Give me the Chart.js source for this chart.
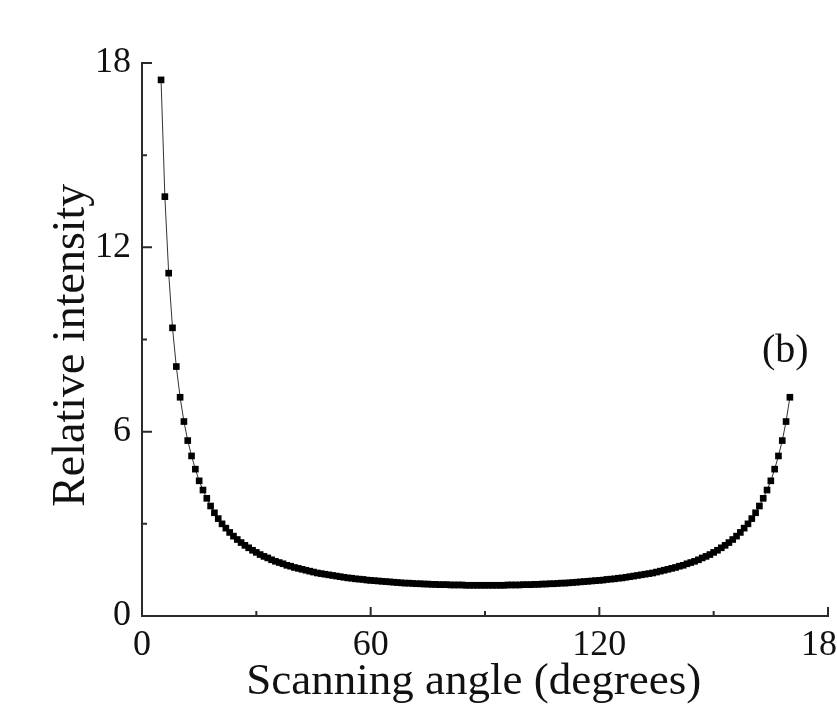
<!DOCTYPE html>
<html>
<head>
<meta charset="utf-8">
<script src="https://cdn.jsdelivr.net/npm/chart.js@4.4.1/dist/chart.umd.min.js"></script>
<style>
  html, body { margin: 0; padding: 0; background: #fff; overflow: hidden; }
  #wrap { width: 837px; height: 709px; overflow: hidden; }
</style>
</head>
<body>
<div id="wrap"><canvas id="chart" width="880" height="709"></canvas></div>
<script>
// scanning angle (degrees), one point per degree
const angles = [
  5, 6, 7, 8, 9, 10, 11, 12, 13, 14, 15, 16, 17, 18, 19, 20, 21, 22, 23, 24,
  25, 26, 27, 28, 29, 30, 31, 32, 33, 34, 35, 36, 37, 38, 39, 40, 41, 42, 43, 44,
  45, 46, 47, 48, 49, 50, 51, 52, 53, 54, 55, 56, 57, 58, 59, 60, 61, 62, 63, 64,
  65, 66, 67, 68, 69, 70, 71, 72, 73, 74, 75, 76, 77, 78, 79, 80, 81, 82, 83, 84,
  85, 86, 87, 88, 89, 90, 91, 92, 93, 94, 95, 96, 97, 98, 99, 100, 101, 102, 103, 104,
  105, 106, 107, 108, 109, 110, 111, 112, 113, 114, 115, 116, 117, 118, 119, 120, 121, 122, 123, 124,
  125, 126, 127, 128, 129, 130, 131, 132, 133, 134, 135, 136, 137, 138, 139, 140, 141, 142, 143, 144,
  145, 146, 147, 148, 149, 150, 151, 152, 153, 154, 155, 156, 157, 158, 159, 160, 161, 162, 163, 164,
  165, 166, 167, 168, 169, 170
];

// relative intensity
const intensity = [
  17.45, 13.65, 11.16, 9.38, 8.12, 7.12, 6.33, 5.71, 5.21, 4.78, 4.40, 4.10, 3.83, 3.58, 3.36, 3.17, 3.00, 2.86, 2.72, 2.60,
  2.49, 2.39, 2.30, 2.22, 2.14, 2.07, 2.00, 1.94, 1.89, 1.83, 1.78, 1.74, 1.70, 1.65, 1.62, 1.58, 1.55, 1.52, 1.49, 1.46,
  1.43, 1.40, 1.38, 1.36, 1.34, 1.32, 1.30, 1.28, 1.26, 1.24, 1.23, 1.21, 1.20, 1.19, 1.17, 1.16, 1.15, 1.14, 1.13, 1.12,
  1.11, 1.10, 1.09, 1.08, 1.07, 1.07, 1.06, 1.05, 1.05, 1.04, 1.04, 1.03, 1.03, 1.02, 1.02, 1.02, 1.01, 1.01, 1.01, 1.01,
  1.00, 1.00, 1.00, 1.00, 1.00, 1.00, 1.00, 1.00, 1.00, 1.00, 1.00, 1.01, 1.01, 1.01, 1.01, 1.02, 1.02, 1.02, 1.03, 1.03,
  1.04, 1.04, 1.05, 1.05, 1.06, 1.07, 1.07, 1.08, 1.09, 1.10, 1.11, 1.12, 1.13, 1.14, 1.15, 1.16, 1.17, 1.19, 1.20, 1.21,
  1.23, 1.24, 1.26, 1.28, 1.30, 1.32, 1.34, 1.36, 1.38, 1.40, 1.43, 1.46, 1.49, 1.52, 1.55, 1.58, 1.62, 1.65, 1.70, 1.74,
  1.78, 1.83, 1.89, 1.94, 2.00, 2.07, 2.14, 2.22, 2.30, 2.39, 2.49, 2.60, 2.72, 2.86, 3.00, 3.17, 3.36, 3.58, 3.83, 4.10,
  4.40, 4.78, 5.21, 5.71, 6.33, 7.12
];

const xMajorTicks = [0, 60, 120, 180];
const xMinorTicks = [30, 90, 150];
const yMajorTicks = [0, 6, 12, 18];
const yMinorTicks = [3, 9, 15];

const SERIF = '"Liberation Serif", "Times New Roman", serif';
const AXIS_COLOR = '#2a2a2a';

// inward tick marks and the panel tag
const tickPlugin = {
    id: 'inwardTicks',
    afterDraw(chart) {
        const ctx = chart.ctx;
        const xs = chart.scales.x;
        const ys = chart.scales.y;
        const area = chart.chartArea;
        ctx.save();
        ctx.strokeStyle = AXIS_COLOR;
        ctx.lineWidth = 2;
        ctx.beginPath();
        for (const v of xMajorTicks) {
            const px = xs.getPixelForValue(v);
            ctx.moveTo(px, area.bottom);
            ctx.lineTo(px, area.bottom - 9);
        }
        for (const v of xMinorTicks) {
            const px = xs.getPixelForValue(v);
            ctx.moveTo(px, area.bottom);
            ctx.lineTo(px, area.bottom - 5);
        }
        for (const v of yMajorTicks) {
            const py = ys.getPixelForValue(v);
            ctx.moveTo(area.left, py);
            ctx.lineTo(area.left + 10, py);
        }
        for (const v of yMinorTicks) {
            const py = ys.getPixelForValue(v);
            ctx.moveTo(area.left, py);
            ctx.lineTo(area.left + 5, py);
        }
        ctx.stroke();

        ctx.fillStyle = '#111';
        ctx.font = '40px ' + SERIF;
        ctx.textAlign = 'center';
        ctx.textBaseline = 'middle';
        ctx.fillText('(b)', xs.getPixelForValue(168.8), ys.getPixelForValue(8.6));
        ctx.restore();
    }
};

new Chart(document.getElementById('chart'), {
    type: 'line',
    data: {
        datasets: [{
            data: angles.map((a, i) => ({ x: a, y: intensity[i] })),
            borderColor: '#333',
            borderWidth: 1,
            pointStyle: 'rect',
            pointRadius: 4.7,
            pointBackgroundColor: '#000',
            pointBorderWidth: 0,
            tension: 0
        }]
    },
    options: {
        responsive: false,
        animation: false,
        devicePixelRatio: 1,
        layout: { padding: { top: 63, right: 52, bottom: 0, left: 0 } },
        plugins: { legend: { display: false }, tooltip: { enabled: false } },
        scales: {
            x: {
                type: 'linear',
                min: 0,
                max: 180,
                afterFit(scale) { scale.height = 93; },
                afterBuildTicks(scale) { scale.ticks = xMajorTicks.map(v => ({ value: v })); },
                ticks: { color: '#111', padding: 8, font: { family: SERIF, size: 36 } },
                grid: { display: false, drawTicks: false },
                border: { display: true, color: AXIS_COLOR, width: 2 },
                title: {
                    display: true,
                    text: 'Scanning angle (degrees)\u00a0\u00a0',
                    color: '#111',
                    font: { family: SERIF, size: 45 },
                    padding: { top: 0, bottom: 0 }
                }
            },
            y: {
                type: 'linear',
                min: 0,
                max: 18,
                afterFit(scale) { scale.width = 142; },
                afterBuildTicks(scale) { scale.ticks = yMajorTicks.map(v => ({ value: v })); },
                ticks: { color: '#111', padding: 11, font: { family: SERIF, size: 36 } },
                grid: { display: false, drawTicks: false },
                border: { display: true, color: AXIS_COLOR, width: 2 },
                title: {
                    display: true,
                    text: 'Relative intensity\u00a0',
                    color: '#111',
                    font: { family: SERIF, size: 46 },
                    padding: { top: 44, bottom: 0 }
                }
            }
        }
    },
    plugins: [tickPlugin]
});
</script>
</body>
</html>
